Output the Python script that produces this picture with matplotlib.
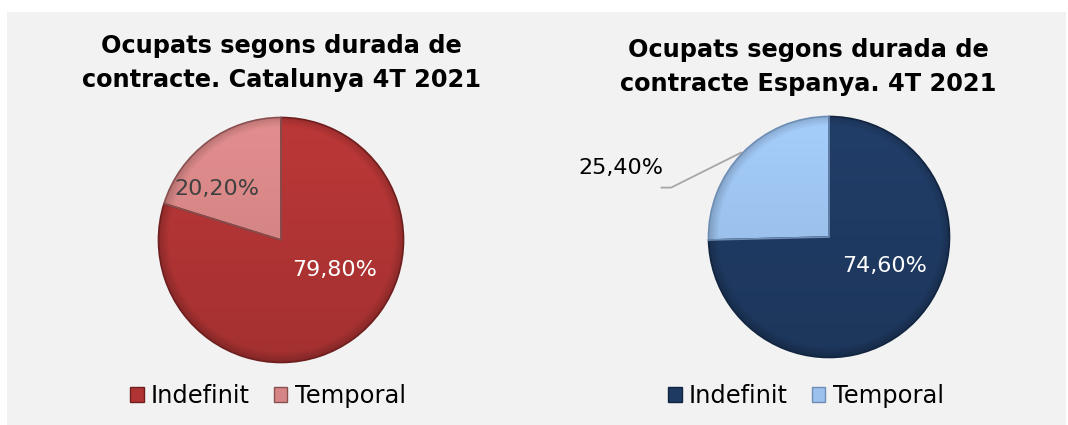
import numpy as np
import matplotlib.pyplot as plt
from matplotlib.colors import to_rgb
from matplotlib.patches import Patch

plt.rcParams['font.family'] = ['DejaVu Sans']

categories = ["Indefinit", "Temporal"]
cat_values = [79.8, 20.2]
esp_values = [74.6, 25.4]
cat_title = "Ocupats segons durada de\ncontracte. Catalunya 4T 2021"
esp_title = "Ocupats segons durada de\ncontracte Espanya. 4T 2021"

cat_colors = ["#B03434", "#D58585"]
cat_edges = ["#6E1E1E", "#8A5050"]
esp_colors = ["#1F3A62", "#9BC1EC"]
esp_edges = ["#122540", "#6D8DB4"]

W, H = 1068, 425


def fmt(v):
    return ("%.2f%%" % v).replace(".", ",")


def pie_axes(fig, cx, cy, r):
    # pixel centre / radius -> square axes with data range [-1, 1]
    return fig.add_axes([(cx - r) / W, (H - cy - r) / H, 2 * r / W, 2 * r / H])


def shade(ax, wedges, colors, edges):
    # fake the excel bevel: a soft vertical gradient plus darker rim, clipped to each wedge
    g = np.linspace(-1, 1, 300)
    xx, yy = np.meshgrid(g, g[::-1])
    rr = np.hypot(xx, yy)
    f = 1.0 + 0.07 * yy - 0.18 * np.clip((rr - 0.92) / 0.08, 0, 1)
    for w, c, ec in zip(wedges, colors, edges):
        img = np.clip(np.array(to_rgb(c))[None, None, :] * f[..., None], 0, 1)
        im = ax.imshow(img, extent=(-1, 1, -1, 1), zorder=0.5, interpolation="bilinear")
        im.set_clip_path(w)
        w.set_facecolor("none")
        w.set_edgecolor(ec)
        w.set_zorder(1)


fig = plt.figure(figsize=(W / 100, H / 100), dpi=100)
fig.patch.set_facecolor("white")
bg = fig.add_axes([7 / W, 0, (W - 9) / W, (H - 12) / H])
bg.set_facecolor("#F2F2F2")
bg.set_xticks([])
bg.set_yticks([])
for s in bg.spines.values():
    s.set_visible(False)

# ---- Catalunya
ax1 = pie_axes(fig, 281, 240, 122.5)
w1, _ = ax1.pie(cat_values, colors=cat_colors, startangle=90, counterclock=False,
                radius=1, wedgeprops=dict(linewidth=1.2))
shade(ax1, w1, cat_colors, cat_edges)
ax1.set_xlim(-1, 1)
ax1.set_ylim(-1, 1)
ax1.set_aspect("equal")
ax1.axis("off")
ax1.text(0.44, -0.245, fmt(cat_values[0]), color="white", fontsize=16,
         ha="center", va="center", zorder=3)
ax1.text(-0.52, 0.42, fmt(cat_values[1]), color="#404040", fontsize=16,
         ha="center", va="center", zorder=3)

# ---- Espanya
ax2 = pie_axes(fig, 829, 237, 120.5)
w2, _ = ax2.pie(esp_values, colors=esp_colors, startangle=90, counterclock=False,
                radius=1, wedgeprops=dict(linewidth=1.2))
shade(ax2, w2, esp_colors, esp_edges)
ax2.set_xlim(-1, 1)
ax2.set_ylim(-1, 1)
ax2.set_aspect("equal")
ax2.axis("off")
ax2.text(-1.73, 0.575, fmt(esp_values[1]), color="black", fontsize=16,
         ha="center", va="center", clip_on=False, zorder=3)
ax2.text(0.46, -0.24, fmt(esp_values[0]), color="white", fontsize=16,
         ha="center", va="center", zorder=3)
ax2.plot([-1.39, -1.31, -0.73], [0.41, 0.41, 0.70], color="#A6A6A6", lw=1.3,
         clip_on=False, zorder=3)

# titles
fig.text(281 / W, 1 - 63 / H, cat_title, ha="center", va="center",
         fontsize=17.3, fontweight="bold", linespacing=1.5)
fig.text(808 / W, 1 - 67 / H, esp_title, ha="center", va="center",
         fontsize=17.3, fontweight="bold", linespacing=1.5)

# legends
for colors, edges, x in [(cat_colors, cat_edges, 268), (esp_colors, esp_edges, 806)]:
    handles = [Patch(facecolor=c, edgecolor=e, label=l)
               for c, e, l in zip(colors, edges, categories)]
    fig.legend(handles=handles, loc="center", bbox_to_anchor=(x / W, 1 - 396 / H),
               ncol=2, frameon=False, fontsize=17.4, handlelength=0.55,
               handleheight=0.55, handletextpad=0.3, columnspacing=1.0)

fig.savefig("out.png", dpi=100, facecolor=fig.get_facecolor())
